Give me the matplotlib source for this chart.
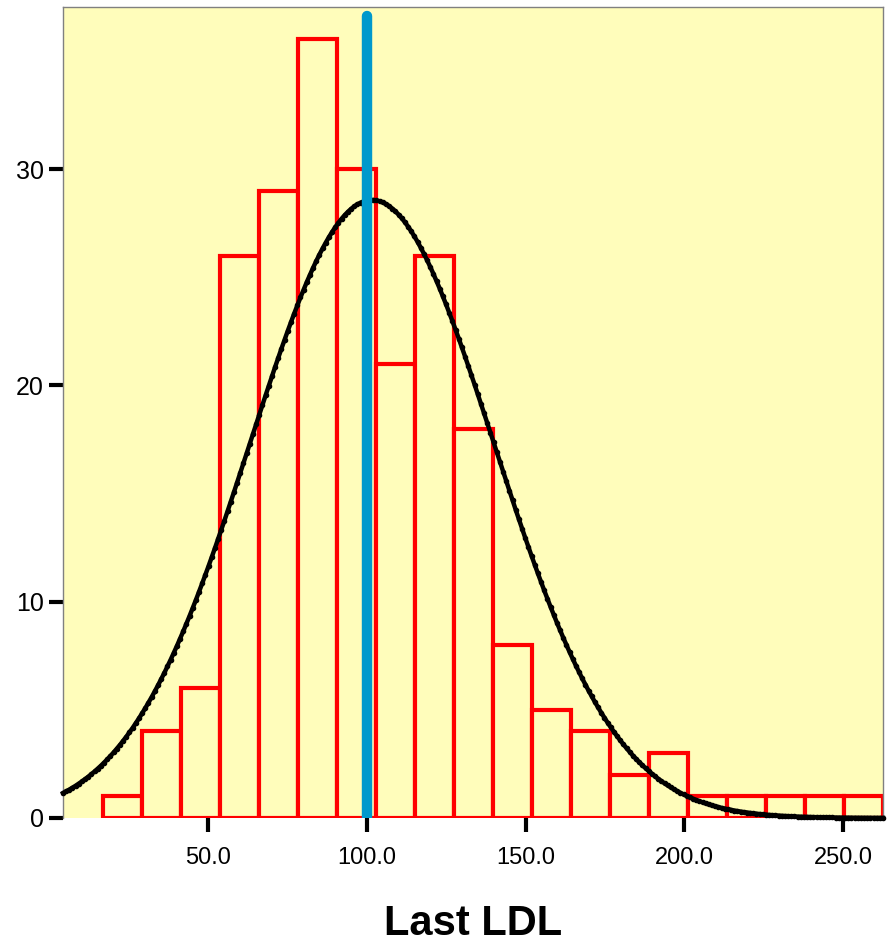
import numpy as np
import matplotlib
matplotlib.use('Agg')
from matplotlib import pyplot as plt

plt.rcParams['font.family'] = ['Liberation Sans', 'DejaVu Sans']

# Histogram of Last LDL (bins)
bin_start = 16.9
bin_width = 12.28
counts = [1, 4, 6, 26, 29, 36, 30, 21, 26, 18, 8, 5, 4, 2, 3, 1, 1, 1, 1, 1]

# Fitted normal curve parameters
ldl_mean = 101.6
ldl_sd = 38.4

# Reference line
ref_value = 100.0
ref_top = 37.1

xticks = [50, 100, 150, 200, 250]
xtick_labels = ['50.0', '100.0', '150.0', '200.0', '250.0']
yticks = [0, 10, 20, 30]

edges = bin_start + bin_width * np.arange(len(counts) + 1)
n_total = sum(counts)

fig = plt.figure(figsize=(8.96, 9.44), dpi=100)
ax = fig.add_axes([0.0703, 0.1335, 0.9152, 0.8591])
bg = '#FFFDBB'
ax.set_facecolor(bg)

ax.bar(edges[:-1], counts, width=bin_width, align='edge', facecolor=bg,
       edgecolor='#FF0000', linewidth=3.0, zorder=2)

xs = np.linspace(4.3, 262.6, 260)
ys = n_total * bin_width / (ldl_sd * np.sqrt(2 * np.pi)) * np.exp(-0.5 * ((xs - ldl_mean) / ldl_sd) ** 2)
ax.plot(xs, ys, color='black', linewidth=3.2, marker='o', markersize=3,
        zorder=3, clip_on=False)

ax.plot([ref_value, ref_value], [0, ref_top], color='#0099CC', linewidth=7.5,
        solid_capstyle='round', zorder=4)

ax.set_xlim(4.3, 262.6)
ax.set_ylim(0, 37.5)
ax.set_xticks(xticks)
ax.set_xticklabels(xtick_labels)
ax.set_yticks(yticks)
ax.tick_params(axis='both', direction='out', length=10, width=3, color='black')
ax.tick_params(axis='y', labelsize=18, pad=4)
ax.tick_params(axis='x', labelsize=17, pad=11)

for side in ['left', 'top', 'right']:
    ax.spines[side].set_color('#808080')
    ax.spines[side].set_linewidth(1.0)
ax.spines['bottom'].set_visible(False)

ax.set_xlabel('Last LDL', fontsize=30, fontweight='bold', labelpad=25)

fig.savefig('out.png', dpi=100)
